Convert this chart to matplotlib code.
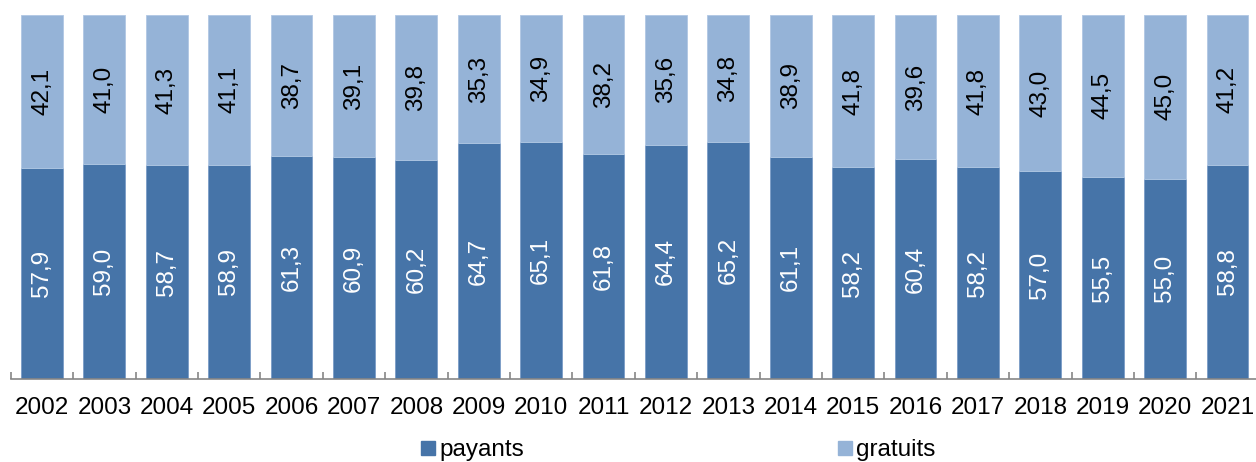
import numpy as np
import matplotlib.pyplot as plt
from matplotlib.lines import Line2D

years = [str(y) for y in range(2002, 2022)]
payants = [57.9, 59.0, 58.7, 58.9, 61.3, 60.9, 60.2, 64.7, 65.1, 61.8,
           64.4, 65.2, 61.1, 58.2, 60.4, 58.2, 57.0, 55.5, 55.0, 58.8]
gratuits = [42.1, 41.0, 41.3, 41.1, 38.7, 39.1, 39.8, 35.3, 34.9, 38.2,
            35.6, 34.8, 38.9, 41.8, 39.6, 41.8, 43.0, 44.5, 45.0, 41.2]

dark = '#4674A8'
light = '#95B3D7'
plt.rcParams['font.family'] = ['Liberation Sans', 'DejaVu Sans']
fs = 17.5

fig = plt.figure(figsize=(12.56, 4.62), dpi=100)
ax = fig.add_axes([0.0086, 0.1797, 0.9936, 0.788])

x = np.arange(len(years))
w = 0.67
ax.bar(x, payants, w, color=dark, edgecolor='#7A9CC6', linewidth=0.6, label='payants')
ax.bar(x, gratuits, w, bottom=payants, color=light, edgecolor='#B0C7E3', linewidth=0.6,
       label='gratuits')

for i in x:
    ax.text(i, payants[i] / 2, f'{payants[i]:.1f}'.replace('.', ','),
            rotation=90, ha='center', va='center', color='white', fontsize=fs)
    ax.text(i, payants[i] + gratuits[i] / 2, f'{gratuits[i]:.1f}'.replace('.', ','),
            rotation=90, ha='center', va='center', color='black', fontsize=fs)

ax.set_xlim(-0.5, len(years) - 0.5)
ax.set_ylim(0, 100)
ax.set_yticks([])
ax.set_xticks(x)
ax.set_xticklabels(years, fontsize=fs)
ax.tick_params(axis='x', which='major', length=0, pad=13)
ax.set_xticks(np.arange(-0.5, len(years), 1), minor=True)
ax.tick_params(axis='x', which='minor', direction='in', length=5, color='#868686', width=1.2)
for s in ['top', 'right', 'left']:
    ax.spines[s].set_visible(False)
ax.spines['bottom'].set_color('#868686')
ax.spines['bottom'].set_linewidth(1.2)

handles = [Line2D([], [], marker='s', color=dark, linestyle='', markersize=9.5),
           Line2D([], [], marker='s', color=light, linestyle='', markersize=9.5)]
fig.legend(handles, ['payants', 'gratuits'], loc='center', bbox_to_anchor=(0.54, 0.025),
           ncol=2, frameon=False, fontsize=fs, handlelength=0.6, handletextpad=0.15,
           columnspacing=12.9)

fig.savefig('out.png', dpi=100)
